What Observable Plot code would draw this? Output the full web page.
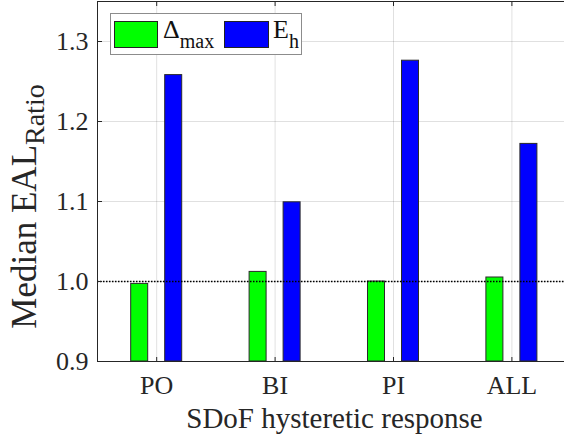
<!DOCTYPE html>
<html><head><meta charset="utf-8">
<script src="https://cdn.jsdelivr.net/npm/d3@7"></script>
<script src="https://cdn.jsdelivr.net/npm/@observablehq/plot@0.6"></script>
<style>
body{margin:0;background:#fff;}
#wrap{position:relative;width:564px;height:441px;overflow:hidden;font-family:"Liberation Serif","Times New Roman",serif;}
#wrap svg text{font-family:"Liberation Serif","Times New Roman",serif !important;}
#legend{position:absolute;left:110px;top:13px;width:192px;height:42px;box-sizing:border-box;border:1px solid #8c8c8c;background:#fff;}
#legend .sw{position:absolute;top:7px;height:27px;box-sizing:border-box;border:1px solid #222;}
#legend .lab{position:absolute;top:1px;font-size:26px;line-height:30px;color:#111;white-space:nowrap;}
#legend .lab sub{font-size:20px;vertical-align:-10px;line-height:0;}
</style></head><body><div id="wrap"></div>
<script>
const categories = ["PO", "BI", "PI", "ALL"];
const seriesMain = ["Δ", "E"];
const seriesSub = ["max", "h"];
const seriesColors = ["#00ff00", "#0000ff"];
const deltaMax = [0.997, 1.012, 1.000, 1.005];
const energyH = [1.258, 1.099, 1.276, 1.172];
const yTicks = [0.9, 1.0, 1.1, 1.2, 1.3];
const yDomain = [0.9, 1.35];
const refLine = 1.0;
const xLabel = "SDoF hysteretic response";
const yLabel = "Median EAL_Ratio";

// grouped-bar layout (in category units)
const groupOffset = 0.1436, barHalf = 0.0718;
const xDomain = [0.5, 0.5 + 467 / 118.4];

const rows = [];
categories.forEach((c, i) => {
  rows.push({i: i + 1, s: 0, v: deltaMax[i]});
  rows.push({i: i + 1, s: 1, v: energyH[i]});
});
const xTicks = categories.map((c, i) => i + 1);
const axisColor = "#262626";
const serif = "Liberation Serif";

const plot = Plot.plot({
  width: 564, height: 441,
  marginLeft: 97, marginRight: 0, marginTop: 1, marginBottom: 80,
  style: {fontFamily: serif, background: "#fff", color: axisColor},
  x: {type: "linear", domain: xDomain},
  y: {domain: yDomain},
  marks: [
    Plot.gridY(yTicks.slice(1), {stroke: "#000", strokeOpacity: 0.12}),
    Plot.gridX(xTicks, {stroke: "#000", strokeOpacity: 0.12}),
    Plot.rectY(rows, {
      x1: d => d.i + (d.s === 0 ? -groupOffset : groupOffset) - barHalf,
      x2: d => d.i + (d.s === 0 ? -groupOffset : groupOffset) + barHalf,
      y1: yDomain[0], y2: "v",
      fill: d => seriesColors[d.s], stroke: "#2a2a2a", strokeWidth: 1
    }),
    Plot.ruleY([refLine], {stroke: "#000", strokeWidth: 1.5, strokeDasharray: "1.5,1.5"}),
    Plot.ruleX([xDomain[0]], {stroke: axisColor}),
    Plot.ruleY([yDomain[0]], {stroke: axisColor}),
    Plot.ruleY([yDomain[1]], {stroke: axisColor}),
    Plot.axisY(yTicks, {tickSize: -5, tickFormat: () => "", label: null, stroke: axisColor}),
    Plot.axisY(yTicks, {tickSize: 0, tickPadding: 9, fontSize: 26, fontFamily: serif, tickFormat: d3.format(".1f"), label: null, fill: axisColor}),
    Plot.axisX(xTicks, {tickSize: -4, tickFormat: () => "", label: null, stroke: axisColor}),
    Plot.axisX(xTicks, {anchor: "top", tickSize: -4, tickFormat: () => "", label: null, stroke: axisColor}),
    Plot.axisX(xTicks, {tickSize: 0, tickPadding: 14, fontSize: 26, fontFamily: serif, tickFormat: d => categories[d - 1], label: null, fill: axisColor}),
    Plot.text([xLabel], {frameAnchor: "bottom", lineAnchor: "middle", textAnchor: "middle", dx: 3.5, dy: 57, fontSize: 29, fontFamily: serif, fill: axisColor}),
    Plot.text([yLabel], {frameAnchor: "left", rotate: -90, lineAnchor: "middle", textAnchor: "middle", dx: -73, dy: 25, fontSize: 35, fontFamily: serif, fill: axisColor})
  ]
});

// subscripts for "_" markup
d3.select(plot).selectAll("text").each(function() {
  const t = this.textContent;
  if (t && t.includes("_")) {
    const [main, sub] = t.split("_");
    const el = d3.select(this);
    el.text(null);
    el.append("tspan").text(main);
    el.append("tspan").attr("dy", "0.3em").attr("font-size", 28).text(sub);
  }
});

const wrap = document.getElementById("wrap");
wrap.appendChild(plot);

const legend = document.createElement("div");
legend.id = "legend";
const swLeft = [3, 113], labLeft = [52, 162], swW = [44, 45];
seriesMain.forEach((m, k) => {
  const sw = document.createElement("span");
  sw.className = "sw";
  sw.style.left = swLeft[k] + "px";
  sw.style.width = swW[k] + "px";
  sw.style.background = seriesColors[k];
  legend.appendChild(sw);
  const lab = document.createElement("span");
  lab.className = "lab";
  lab.style.left = labLeft[k] + "px";
  lab.innerHTML = m + "<sub>" + seriesSub[k] + "</sub>";
  legend.appendChild(lab);
});
wrap.appendChild(legend);
</script>
</body></html>
